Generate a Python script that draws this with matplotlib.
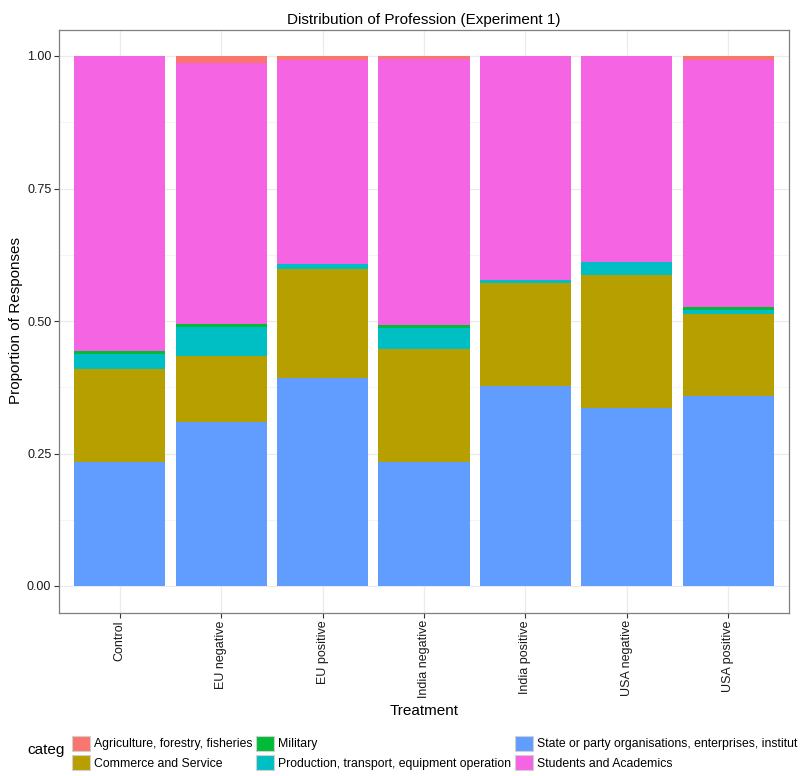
import numpy as np
import matplotlib
matplotlib.use("Agg")
import matplotlib.pyplot as plt
from matplotlib.patches import Patch

plt.rcParams['font.family'] = ['Liberation Sans', 'DejaVu Sans']

# data (proportions per treatment)
treatments = ['Control', 'EU negative', 'EU positive', 'India negative',
              'India positive', 'USA negative', 'USA positive']
categories = ['Agriculture, forestry, fisheries', 'Commerce and Service', 'Military',
              'Production, transport, equipment operation',
              'State or party organisations, enterprises, institut',
              'Students and Academics']
state = [0.234, 0.309, 0.392, 0.234, 0.377, 0.336, 0.358]
commerce = [0.175, 0.125, 0.207, 0.214, 0.194, 0.251, 0.156]
production = [0.028, 0.054, 0.008, 0.039, 0.006, 0.025, 0.007]
military = [0.007, 0.007, 0.0, 0.006, 0.0, 0.0, 0.006]
students = [0.556, 0.491, 0.386, 0.501, 0.423, 0.388, 0.466]
agriculture = [0.0, 0.014, 0.007, 0.006, 0.0, 0.0, 0.007]

palette = ['#F8766D', '#B79F00', '#00BA38', '#00BFC4', '#619CFF', '#F564E3']
colors = dict(zip(categories, palette))

# stacking order bottom -> top as in the reference
stack = [(categories[4], state), (categories[1], commerce), (categories[3], production),
         (categories[2], military), (categories[5], students), (categories[0], agriculture)]

fig = plt.figure(figsize=(8, 7.76), dpi=100)
ax = fig.add_axes([59 / 800, 1 - 612.5 / 776, 730 / 800, 583 / 776])

x = np.arange(len(treatments))
bottom = np.zeros(len(treatments))
for name, vals in stack:
    vals = np.array(vals)
    ax.bar(x, vals, width=0.9, bottom=bottom, color=colors[name], linewidth=0, zorder=2)
    bottom += vals

ax.set_xlim(-0.6, len(treatments) - 0.4)
ax.set_ylim(-0.05, 1.05)
ax.set_yticks([0, 0.25, 0.5, 0.75, 1.0])
ax.set_yticklabels(['0.00', '0.25', '0.50', '0.75', '1.00'])
ax.set_yticks([0.125, 0.375, 0.625, 0.875], minor=True)
ax.set_xticks(x)
ax.set_xticklabels(treatments, rotation=90, va='top')

ax.grid(True, which='major', color='#EBEBEB', linewidth=0.9, zorder=0)
ax.grid(True, which='minor', axis='y', color='#F2F2F2', linewidth=0.6, zorder=0)
ax.set_axisbelow(True)
for s in ax.spines.values():
    s.set_color('#7F7F7F')
    s.set_linewidth(0.9)
ax.tick_params(which='major', length=3.5, width=0.8, color='#333333', labelsize=9,
               labelcolor='#1a1a1a', pad=2)
ax.tick_params(which='minor', length=0)

ax.set_title('Distribution of Profession (Experiment 1)', fontsize=11, pad=4)
ax.set_xlabel('Treatment', fontsize=11, labelpad=4)
ax.set_ylabel('Proportion of Responses', fontsize=11, labelpad=3)

# legend at the bottom, filled column-wise
handles = [Patch(facecolor=colors[c], edgecolor='#D0D0D0', linewidth=0.8) for c in categories]
fig.legend(handles, categories, ncol=3, loc='upper left',
           bbox_to_anchor=(72 / 800, 1 - 736 / 776), frameon=False, fontsize=8.8,
           handlelength=1.5, handleheight=1.5, handletextpad=0.3,
           columnspacing=0.3, labelspacing=0.35, borderpad=0, borderaxespad=0)
fig.text(27 / 800, 1 - 750 / 776, 'categ', fontsize=11, ha='left', va='center')

fig.savefig('out.png', dpi=100)
